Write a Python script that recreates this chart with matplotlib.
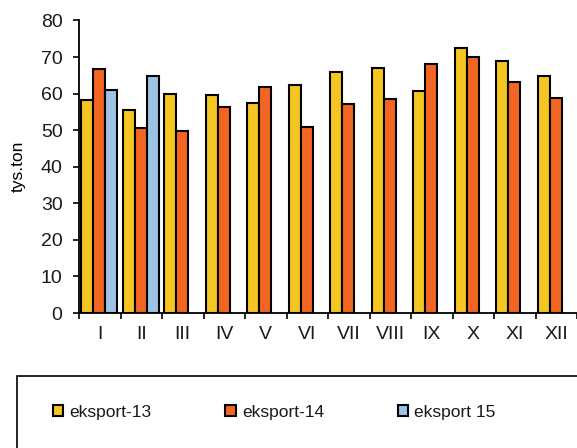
import matplotlib
matplotlib.use('Agg')
from matplotlib import pyplot as plt
from matplotlib.patches import Rectangle
import numpy as np

months = ['I', 'II', 'III', 'IV', 'V', 'VI', 'VII', 'VIII', 'IX', 'X', 'XI', 'XII']
eksport13 = [58.3, 55.5, 59.8, 59.5, 57.4, 62.4, 66.0, 67.0, 60.8, 72.6, 68.8, 64.7]
eksport14 = [66.8, 50.7, 49.8, 56.3, 61.8, 51.0, 57.1, 58.6, 68.1, 69.9, 63.3, 58.7]
eksport15 = [61.0, 64.9]
series_names = ['eksport-13', 'eksport-14', 'eksport 15']
colors = ['#F5C623', '#F26522', '#9DC3E6']

plt.rcParams['font.family'] = ['Liberation Sans', 'DejaVu Sans']
plt.rcParams['font.size'] = 12.5
plt.rcParams['text.color'] = '#1a1a1a'
plt.rcParams['xtick.labelcolor'] = '#1a1a1a'
plt.rcParams['ytick.labelcolor'] = '#1a1a1a'

W, H = 577, 448
fig = plt.figure(figsize=(W / 100, H / 100), dpi=100)
ax = fig.add_axes([79 / W, (H - 313) / H, (W - 79) / W, (313 - 20.5) / H])

x = np.arange(len(months))
w = 0.29
shift = -0.015
allseries = [eksport13, eksport14, eksport15]
for k, vals in enumerate(allseries):
    xs = x[:len(vals)] + (k - 1) * w + shift
    ax.bar(xs, vals, width=w, color=colors[k], edgecolor='black',
           linewidth=1.5, label=series_names[k], zorder=3)

ax.set_ylim(0, 80)
ax.set_yticks(range(0, 81, 10))
ax.set_xlim(-0.5, 11.47)
ax.set_xticks(x)
ax.set_xticklabels(months)
ax.set_xticks(np.arange(-0.5, 12, 1), minor=True)
ax.tick_params(axis='x', which='major', length=0, pad=9.5, labelsize=14)
ax.tick_params(axis='x', which='minor', length=4.5, width=1.2, direction='out')
ax.tick_params(axis='y', length=4.3, width=1.2, direction='out', pad=7.5, labelsize=14)

for s in ['top', 'right']:
    ax.spines[s].set_visible(False)
for s in ['left', 'bottom']:
    ax.spines[s].set_linewidth(1.3)

ax.set_ylabel('tys.ton', fontsize=12.5)
ax.yaxis.label.set_va('center')
ax.yaxis.set_label_coords(-0.1225, 0.5)

# legend frame running off the figure edge
frame = Rectangle((17 / W, -0.1), 1.0, (H - 376) / H + 0.1, transform=fig.transFigure,
                  facecolor='none', edgecolor='black', linewidth=1.2, clip_on=False)
fig.patches.append(frame)

fig.legend(loc='center left', bbox_to_anchor=(53 / W, 1 - 412 / H), ncol=3,
           frameon=False, borderaxespad=0, borderpad=0, handlelength=0.6,
           handleheight=0.65, handletextpad=0.35, columnspacing=4.25,
           fontsize=12.5)

plt.savefig('out.png', dpi=100)
